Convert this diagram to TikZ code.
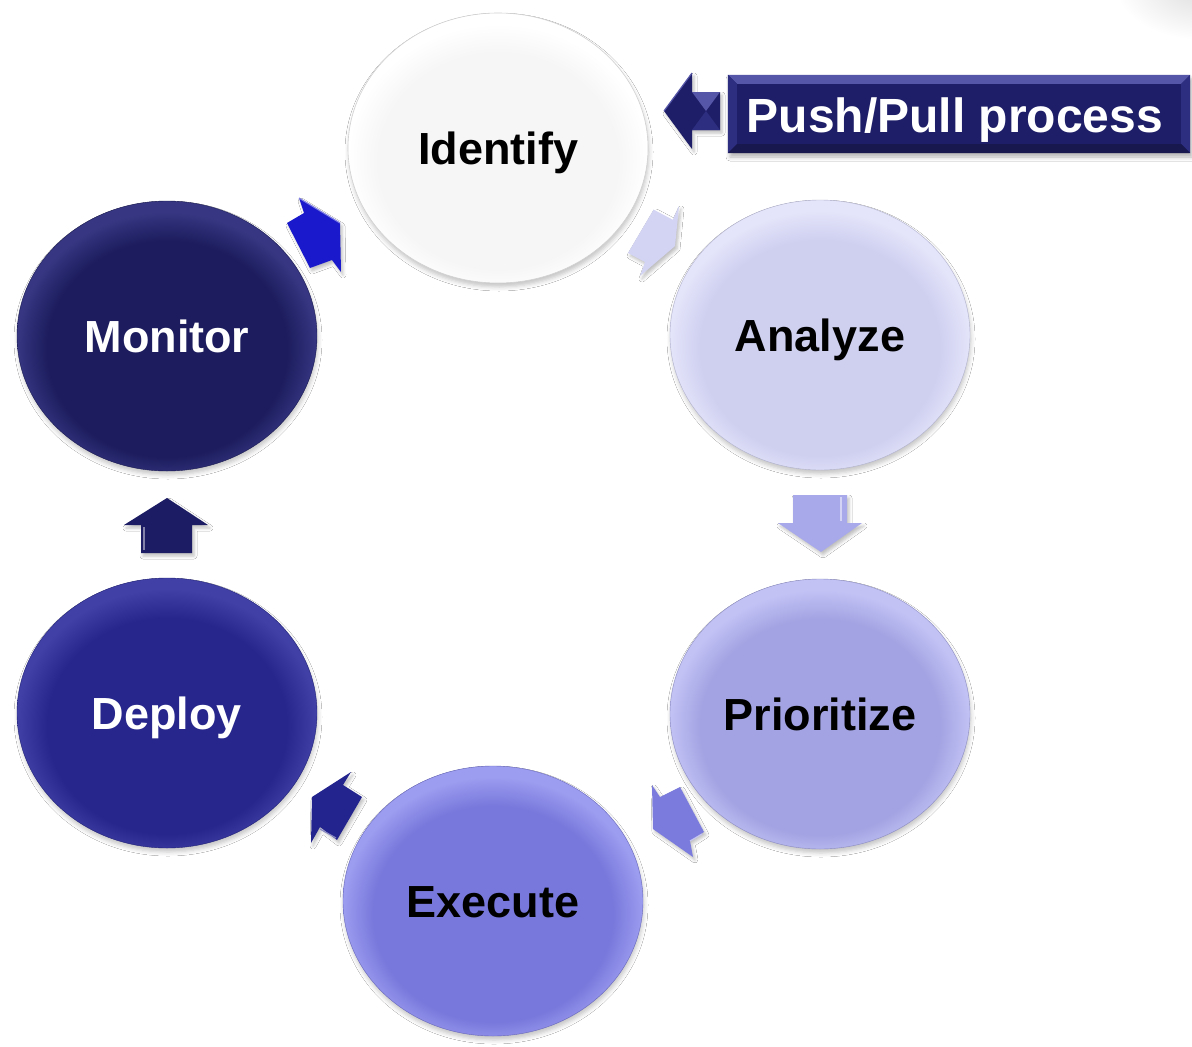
\documentclass[tikz,border=0pt]{standalone}
\usepackage{fontspec}
\setmainfont{Liberation Sans}
\usetikzlibrary{shapes.geometric,shadows.blur,calc}

\definecolor{cIdB}{HTML}{F6F6F6}\definecolor{cIdL}{HTML}{FFFFFF}
\definecolor{cAnB}{HTML}{CFD0F0}\definecolor{cAnL}{HTML}{E4E4FA}
\definecolor{cPrB}{HTML}{A3A3E3}\definecolor{cPrL}{HTML}{C2C2F5}
\definecolor{cExB}{HTML}{7878DC}\definecolor{cExL}{HTML}{9C9CF0}
\definecolor{cDeB}{HTML}{26268C}\definecolor{cDeL}{HTML}{4040A6}
\definecolor{cMoB}{HTML}{1C1C5E}\definecolor{cMoL}{HTML}{363682}
\definecolor{aMoId}{HTML}{1A1ACC}
\definecolor{aIdAn}{HTML}{D3D4F4}
\definecolor{aAnPr}{HTML}{A8A9EA}
\definecolor{aPrEx}{HTML}{7B7BDE}
\definecolor{aExDe}{HTML}{24248E}
\definecolor{aDeMo}{HTML}{1C1C64}
\definecolor{boxB}{HTML}{1E1E68}
\definecolor{boxT}{HTML}{5656A8}
\definecolor{boxS}{HTML}{2E2E80}
\definecolor{boxD}{HTML}{18184E}

\pgfdeclareradialshading{rimId}{\pgfpoint{0bp}{-4bp}}{color(0bp)=(cIdB); color(20bp)=(cIdB); color(25bp)=(cIdL); color(50bp)=(cIdL)}
\pgfdeclareradialshading{rimAn}{\pgfpoint{0bp}{-4bp}}{color(0bp)=(cAnB); color(20bp)=(cAnB); color(25bp)=(cAnL); color(50bp)=(cAnL)}
\pgfdeclareradialshading{rimPr}{\pgfpoint{0bp}{-4bp}}{color(0bp)=(cPrB); color(20bp)=(cPrB); color(25bp)=(cPrL); color(50bp)=(cPrL)}
\pgfdeclareradialshading{rimEx}{\pgfpoint{0bp}{-4bp}}{color(0bp)=(cExB); color(20bp)=(cExB); color(25bp)=(cExL); color(50bp)=(cExL)}
\pgfdeclareradialshading{rimDe}{\pgfpoint{0bp}{-4bp}}{color(0bp)=(cDeB); color(20bp)=(cDeB); color(25bp)=(cDeL); color(50bp)=(cDeL)}
\pgfdeclareradialshading{rimMo}{\pgfpoint{0bp}{-4bp}}{color(0bp)=(cMoB); color(20bp)=(cMoB); color(25bp)=(cMoL); color(50bp)=(cMoL)}

\tikzset{
  stage/.style={ellipse, minimum width=300pt, minimum height=270pt, inner sep=0pt,
    font=\fontsize{45}{50}\selectfont\bfseries, text height=32.2pt, text depth=0pt,
    shade, blur shadow={shadow xshift=1pt, shadow yshift=-4pt, shadow blur radius=4pt, shadow opacity=22}},
  blockarrow/.style={blur shadow={shadow xshift=2pt, shadow yshift=-3pt, shadow blur radius=3pt, shadow opacity=25}},
  facet/.style={line width=1.2pt, line join=round}
}

\begin{document}
\begin{tikzpicture}[x=1pt,y=-1pt]
\useasboundingbox (0,0) rectangle (1192,1047);
\fill[white] (0,0) rectangle (1192,1047);

% faint grey in the top right corner
\begin{scope}
  \clip (0,0) rectangle (1192,1047);
  \shade[inner color=black!14, outer color=white] (1205,-15) ellipse (90pt and 55pt);
\end{scope}

% stages
\node[stage, shading=rimId, draw=black!18, line width=0.6pt, text=black] (identify) at (498,148) {Identify};
\node[stage, shading=rimAn, draw=cAnB!85!black, line width=0.4pt, text=black] (analyze) at (820,335) {Analyze};
\node[stage, shading=rimPr, draw=cPrB!85!black, line width=0.4pt, text=black] (prioritize) at (820,714) {Prioritize};
\node[stage, shading=rimEx, draw=cExB!85!black, line width=0.4pt, text=black] (execute) at (493,901) {Execute};
\node[stage, shading=rimDe, draw=cDeB!85!black, line width=0.4pt, text=white] (deploy) at (167,713) {Deploy};
\node[stage, shading=rimMo, draw=cMoB!85!black, line width=0.4pt, text=white] (monitor) at (167,336) {Monitor};

% block arrows between the stages
% Monitor -> Identify
\fill[aMoId, blockarrow] (287,223) -- (304,213) -- (299,198) -- (340,223) -- (341,272) -- (332,260) -- (310,268) -- cycle;
\draw[aMoId!55!white, facet] (299,198) -- (340,223);
% Identify -> Analyze
\fill[aIdAn, blockarrow] (654,209) -- (673,219) -- (679,206) -- (675,246) -- (640,276) -- (645,262) -- (628,253) -- cycle;
\draw[white, facet] (654,209) -- (673,219);
% Analyze -> Prioritize
\fill[aAnPr, blockarrow] (793,495) -- (847,495) -- (847,523) -- (862,523) -- (821,552) -- (778,523) -- (793,523) -- cycle;
\draw[aAnPr!50!white, facet] (841,497) -- (841,521);
% Prioritize -> Execute
\fill[aPrEx, blockarrow] (652,785) -- (660,797) -- (680,787) -- (704,832) -- (690,841) -- (693,857) -- (653,829) -- cycle;
\draw[aPrEx!45!white, facet] (690,841) -- (702,834);
% Execute -> Deploy
\fill[aExDe, blockarrow] (351,772) -- (343,785) -- (362,797) -- (337,840) -- (320,827) -- (311,843) -- (312,797) -- cycle;
\draw[aExDe!55!white, facet] (320,829) -- (336,838);
% Deploy -> Monitor
\fill[aDeMo, blockarrow] (167,498) -- (208,525) -- (192,525) -- (192,553) -- (141,553) -- (141,525) -- (124,525) -- cycle;
\draw[aDeMo!55!white, facet] (144,527) -- (144,550);

% Push/Pull box and arrow
\node[minimum width=462pt, minimum height=78pt, inner sep=0pt, fill=boxB,
  blur shadow={shadow xshift=2pt, shadow yshift=-4pt, shadow blur radius=4pt, shadow opacity=30}] (pushbox) at (959,114) {};
\fill[boxT] (pushbox.north west) -- (pushbox.north east) -- ($(pushbox.north east)+(-9,9)$) -- ($(pushbox.north west)+(9,9)$) -- cycle;
\fill[boxS] (pushbox.north west) -- ($(pushbox.north west)+(9,9)$) -- ($(pushbox.south west)+(9,-9)$) -- (pushbox.south west) -- cycle;
\fill[boxS] (pushbox.north east) -- ($(pushbox.north east)+(-9,9)$) -- ($(pushbox.south east)+(-9,-9)$) -- (pushbox.south east) -- cycle;
\fill[boxD] (pushbox.south west) -- ($(pushbox.south west)+(9,-9)$) -- ($(pushbox.south east)+(-9,-9)$) -- (pushbox.south east) -- cycle;
\node[text=white, font=\fontsize{48}{54}\selectfont\bfseries, text height=34.4pt, text depth=0pt, inner sep=0pt] (pushtext) at (955,115) {Push/Pull process};

\fill[boxB, blockarrow] (664,111) -- (692,73) -- (692,92) -- (720,92) -- (720,130) -- (692,130) -- (692,149) -- cycle;
\fill[boxT] (692,92) -- (720,92) -- (706,111) -- cycle;
\fill[boxS] (692,130) -- (720,130) -- (706,111) -- cycle;
\draw[boxT, facet] (664,111) -- (692,73);
\end{tikzpicture}
\end{document}
